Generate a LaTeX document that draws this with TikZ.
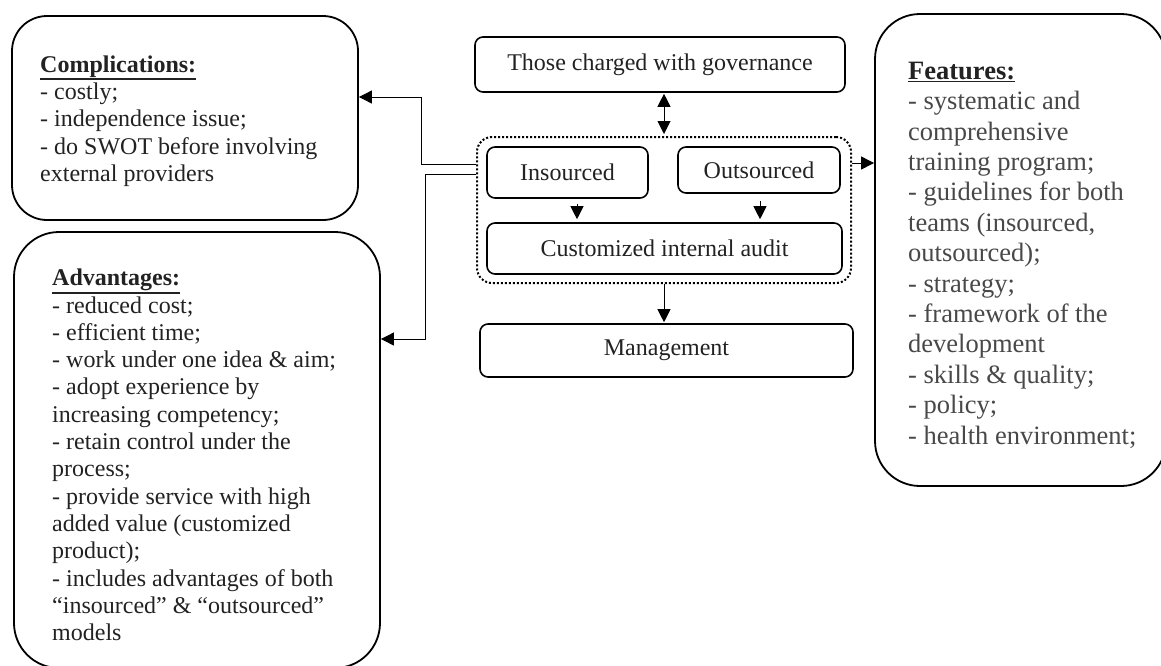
\documentclass[tikz,border=0pt]{standalone}
\usepackage{fontspec}
\setmainfont{Liberation Serif}
\usetikzlibrary{arrows.meta}
\definecolor{txt}{RGB}{34,34,34}
\definecolor{ftxt}{RGB}{72,72,72}
\newcommand\ulhead[1]{\vtop{\hbox{\textbf{#1}}\kern1pt\hrule height 1.8pt}}
\tikzset{
  bigbox/.style={draw, line width=1.8pt, rounded corners=#1, inner sep=0pt},
  smallbox/.style={draw, line width=1.6pt, rounded corners=8pt, inner sep=0pt, font=\fontsize{24}{27.3}\selectfont, text=txt},
  body/.style={align=left, inner sep=0pt, anchor=west, text=txt, font=\fontsize{24}{27.3}\selectfont},
  fbody/.style={align=left, inner sep=0pt, anchor=west, text=ftxt, font=\fontsize{26.5}{30.4}\selectfont},
  arr/.style={line width=0.9pt, -{Triangle[length=13pt,width=13pt]}},
  dbl/.style={line width=0.9pt, {Triangle[length=13pt,width=13pt]}-{Triangle[length=13pt,width=13pt]}},
}
\begin{document}
\begin{tikzpicture}[x=1pt,y=-1pt]
\useasboundingbox (0,0) rectangle (1161,665);
% big boxes
\node[bigbox=35pt, minimum width=346pt, minimum height=204pt] (comp) at (185,118) {};
\node[bigbox=45pt, minimum width=366pt, minimum height=436pt] (adv) at (197,450) {};
\node[bigbox=45pt, minimum width=291pt, minimum height=472pt] (feat) at (1020.5,250) {};
% texts
\node[body] (compt) at (40,121) {\ulhead{Complications:}\\- costly;\\- independence issue;\\- do SWOT before involving\\external providers};
\node[body] (advt) at (52,455) {\ulhead{Advantages:}\\- reduced cost;\\- efficient time;\\- work under one idea \& aim;\\- adopt experience by\\increasing competency;\\- retain control under the\\process;\\- provide service with high\\added value (customized\\product);\\- includes advantages of both\\``insourced'' \& ``outsourced''\\models};
\node[fbody] (featt) at (908,255) {\textcolor{txt}{\ulhead{Features:}}\\- systematic and\\comprehensive\\training program;\\- guidelines for both\\teams (insourced,\\outsourced);\\- strategy;\\- framework of the\\development\\- skills \& quality;\\- policy;\\- health environment;};
% center
\node[smallbox, minimum width=370pt, minimum height=55pt] (gov) at (660,64.5) {Those charged with governance};
\node[draw, dotted, line width=2pt, rounded corners=15pt, minimum width=374pt, minimum height=146pt, inner sep=0pt] (dot) at (664,210) {};
\node[smallbox, minimum width=161pt, minimum height=51pt] (ins) at (567.5,172.5) {Insourced};
\node[smallbox, minimum width=162pt, minimum height=46pt] (out) at (759,170) {Outsourced};
\node[smallbox, minimum width=355pt, minimum height=51pt] (cust) at (664.5,248.5) {Customized internal audit};
\node[smallbox, minimum width=373pt, minimum height=53pt] (mgmt) at (666.5,350.5) {Management};
% connectors
\draw[dbl, shorten <=1pt, shorten >=2pt] (dot.north |- gov.south) -- (dot.north);
\draw[arr, shorten <=5pt, shorten >=3pt] ([xshift=9.5pt]ins.south) -- ([xshift=9.5pt]ins.south |- cust.north);
\draw[arr, shorten <=7pt, shorten >=3pt] ([xshift=1pt]out.south) -- ([xshift=1pt]out.south |- cust.north);
\draw[arr, shorten >=1pt] (dot.south) -- (dot.south |- mgmt.north);
\draw[arr] ([yshift=47pt]dot.east) -- ([yshift=47pt]dot.east -| feat.west);
\coordinate (c1) at (421,164);
\coordinate (c2) at (425,174);
\draw[line width=0.9pt] (dot.west |- c1) -- (c1);
\draw[arr] (c1) |- ([yshift=21pt]comp.east);
\draw[line width=0.9pt] (dot.west |- c2) -- (c2);
\draw[arr] (c2) |- ([yshift=111pt]adv.east);
\end{tikzpicture}
\end{document}
